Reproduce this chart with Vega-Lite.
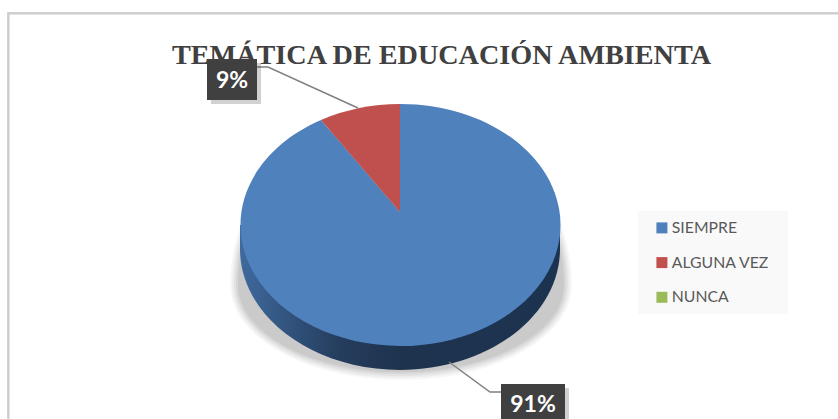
{
"$schema":"https://vega.github.io/schema/vega-lite/v6.json",
"width":838,"height":419,"padding":0,"autosize":"none",
"background":"#ffffff",
"view":{"stroke":null},
"title":{"text":"TEMÁTICA DE EDUCACIÓN AMBIENTA","font":"Liberation Serif","fontSize":28.2,"fontWeight":"bold","color":"#404040","anchor":"start","frame":"group","dx":172,"dy":70,"offset":0},
"data":{"values":[
{"categoria":"SIEMPRE","valor":0.91},
{"categoria":"ALGUNA VEZ","valor":0.09},
{"categoria":"NUNCA","valor":0}
]},
"layer":[
{"mark":{"type":"rect","fill":"#ffffff","stroke":"#cccccc","strokeWidth":2},
 "encoding":{"x":{"value":8.5},"x2":{"value":860},"y":{"value":13.5},"y2":{"value":440}}},
{"mark":{"type":"rect","fill":"#f9f9f9"},
 "encoding":{"x":{"value":638},"x2":{"value":788},"y":{"value":211},"y2":{"value":314}}},
{"transform":[{"filter":"datum.categoria==='SIEMPRE'"}],
 "mark":{"type":"point","filled":true,"opacity":1,"strokeWidth":0,"fill":"#000000","fillOpacity":0.03,"size":4,"shape":"M-170 73A171 95 0 0 0 172 73A171 170 0 0 0 -170 73Z"},
 "encoding":{"x":{"value":400},"y":{"value":212}}},
{"transform":[{"filter":"datum.categoria==='SIEMPRE'"}],
 "mark":{"type":"point","filled":true,"opacity":1,"strokeWidth":0,"fill":"#000000","fillOpacity":0.04,"size":4,"shape":"M-168 73A169 93 0 0 0 170 73A169 170 0 0 0 -168 73Z"},
 "encoding":{"x":{"value":400},"y":{"value":212}}},
{"transform":[{"filter":"datum.categoria==='SIEMPRE'"}],
 "mark":{"type":"point","filled":true,"opacity":1,"strokeWidth":0,"fill":"#000000","fillOpacity":0.045,"size":4,"shape":"M-166 73A167 91 0 0 0 168 73A167 170 0 0 0 -166 73Z"},
 "encoding":{"x":{"value":400},"y":{"value":212}}},
{"transform":[{"filter":"datum.categoria==='SIEMPRE'"}],
 "mark":{"type":"point","filled":true,"opacity":1,"strokeWidth":0,"fill":"#000000","fillOpacity":0.05,"size":4,"shape":"M-164 73A165 89 0 0 0 166 73A165 170 0 0 0 -164 73Z"},
 "encoding":{"x":{"value":400},"y":{"value":212}}},
{"transform":[{"filter":"datum.categoria==='SIEMPRE'"}],
 "mark":{"type":"point","filled":true,"opacity":1,"strokeWidth":0,"fill":"#000000","fillOpacity":0.055,"size":4,"shape":"M-162 73A163 87 0 0 0 164 73A163 170 0 0 0 -162 73Z"},
 "encoding":{"x":{"value":400},"y":{"value":212}}},
{"transform":[{"filter":"datum.categoria==='SIEMPRE'"}],
 "mark":{"type":"point","filled":true,"opacity":1,"strokeWidth":0,"fill":{"gradient":"linear","x1":0,"y1":0,"x2":1,"y2":0,"stops":[{"offset":0,"color":"#3f6a9e"},{"offset":0.18,"color":"#2f4f77"},{"offset":0.32,"color":"#253c5c"},{"offset":0.5,"color":"#1e334e"},{"offset":1,"color":"#1c3350"}]},"shape":"M-160 13L-160 37A160 121 0 0 0 160 37L160 13Z","size":4},
 "encoding":{"x":{"value":400},"y":{"value":212}}},
{"mark":{"type":"point","filled":true,"opacity":1,"strokeWidth":0,"size":4},
 "encoding":{"x":{"value":400},"y":{"value":212},
  "color":{"field":"categoria","type":"nominal","sort":null,
   "scale":{"domain":["SIEMPRE","ALGUNA VEZ","NUNCA"],"range":["#4f81bd","#c0504d","#9bbb59"]},
   "legend":{"title":null,"orient":"none","legendX":654,"legendY":220,"symbolType":"square","symbolSize":121,"symbolStrokeWidth":0,"labelFont":"Lato","labelFontSize":15.8,"labelColor":"#595959","labelOffset":2,"rowPadding":17.7,"padding":0,"values":["SIEMPRE","ALGUNA VEZ","NUNCA"]}},
  "shape":{"field":"categoria","type":"nominal","legend":null,
   "scale":{"domain":["SIEMPRE","ALGUNA VEZ","NUNCA"],"range":["M0 0L0 -108A160 121 0 1 1 -79 -92Z","M0 0L-79 -92A160 121 0 0 1 0 -108Z","M0 0Z"]}}}},
{"transform":[{"filter":"datum.categoria!=='NUNCA'"}],
 "mark":{"type":"point","filled":false,"opacity":1,"stroke":"#808080","strokeWidth":1.5,"size":4},
 "encoding":{"x":{"value":0},"y":{"value":0},
  "shape":{"field":"categoria","type":"nominal","legend":null,
   "scale":{"domain":["SIEMPRE","ALGUNA VEZ"],"range":["M449 362L490 392L505 392","M255 67L268 67L358 108"]}}}},
{"transform":[{"filter":"datum.categoria!=='NUNCA'"}],
 "mark":{"type":"point","filled":true,"opacity":1,"strokeWidth":0,"size":4,"fill":"#000000","fillOpacity":0.18},
 "encoding":{"x":{"value":4},"y":{"value":4},
  "shape":{"field":"categoria","type":"nominal","legend":null,
   "scale":{"domain":["SIEMPRE","ALGUNA VEZ"],"range":["M501 384H565V440H501Z","M207 59H257V100H207Z"]}}}},
{"transform":[{"filter":"datum.categoria!=='NUNCA'"}],
 "mark":{"type":"point","filled":true,"opacity":1,"strokeWidth":0,"size":4,"fill":"#404040"},
 "encoding":{"x":{"value":0},"y":{"value":0},
  "shape":{"field":"categoria","type":"nominal","legend":null,
   "scale":{"domain":["SIEMPRE","ALGUNA VEZ"],"range":["M501 384H565V440H501Z","M207 59H257V100H207Z"]}}}},
{"transform":[{"filter":"datum.categoria!=='NUNCA'"}],
 "mark":{"type":"text","font":"Lato","fontSize":23,"fontWeight":"bold","color":"#ffffff","align":"center","baseline":"middle"},
 "encoding":{"text":{"field":"valor","type":"quantitative","format":".0%"},
  "x":{"field":"categoria","type":"nominal","axis":null,"scale":{"domain":["SIEMPRE","ALGUNA VEZ"],"range":[533,232],"padding":0}},
  "y":{"field":"categoria","type":"nominal","axis":null,"scale":{"domain":["SIEMPRE","ALGUNA VEZ"],"range":[405,81],"padding":0}}}}
],
"resolve":{"scale":{"shape":"independent","x":"independent","y":"independent"}}
}
